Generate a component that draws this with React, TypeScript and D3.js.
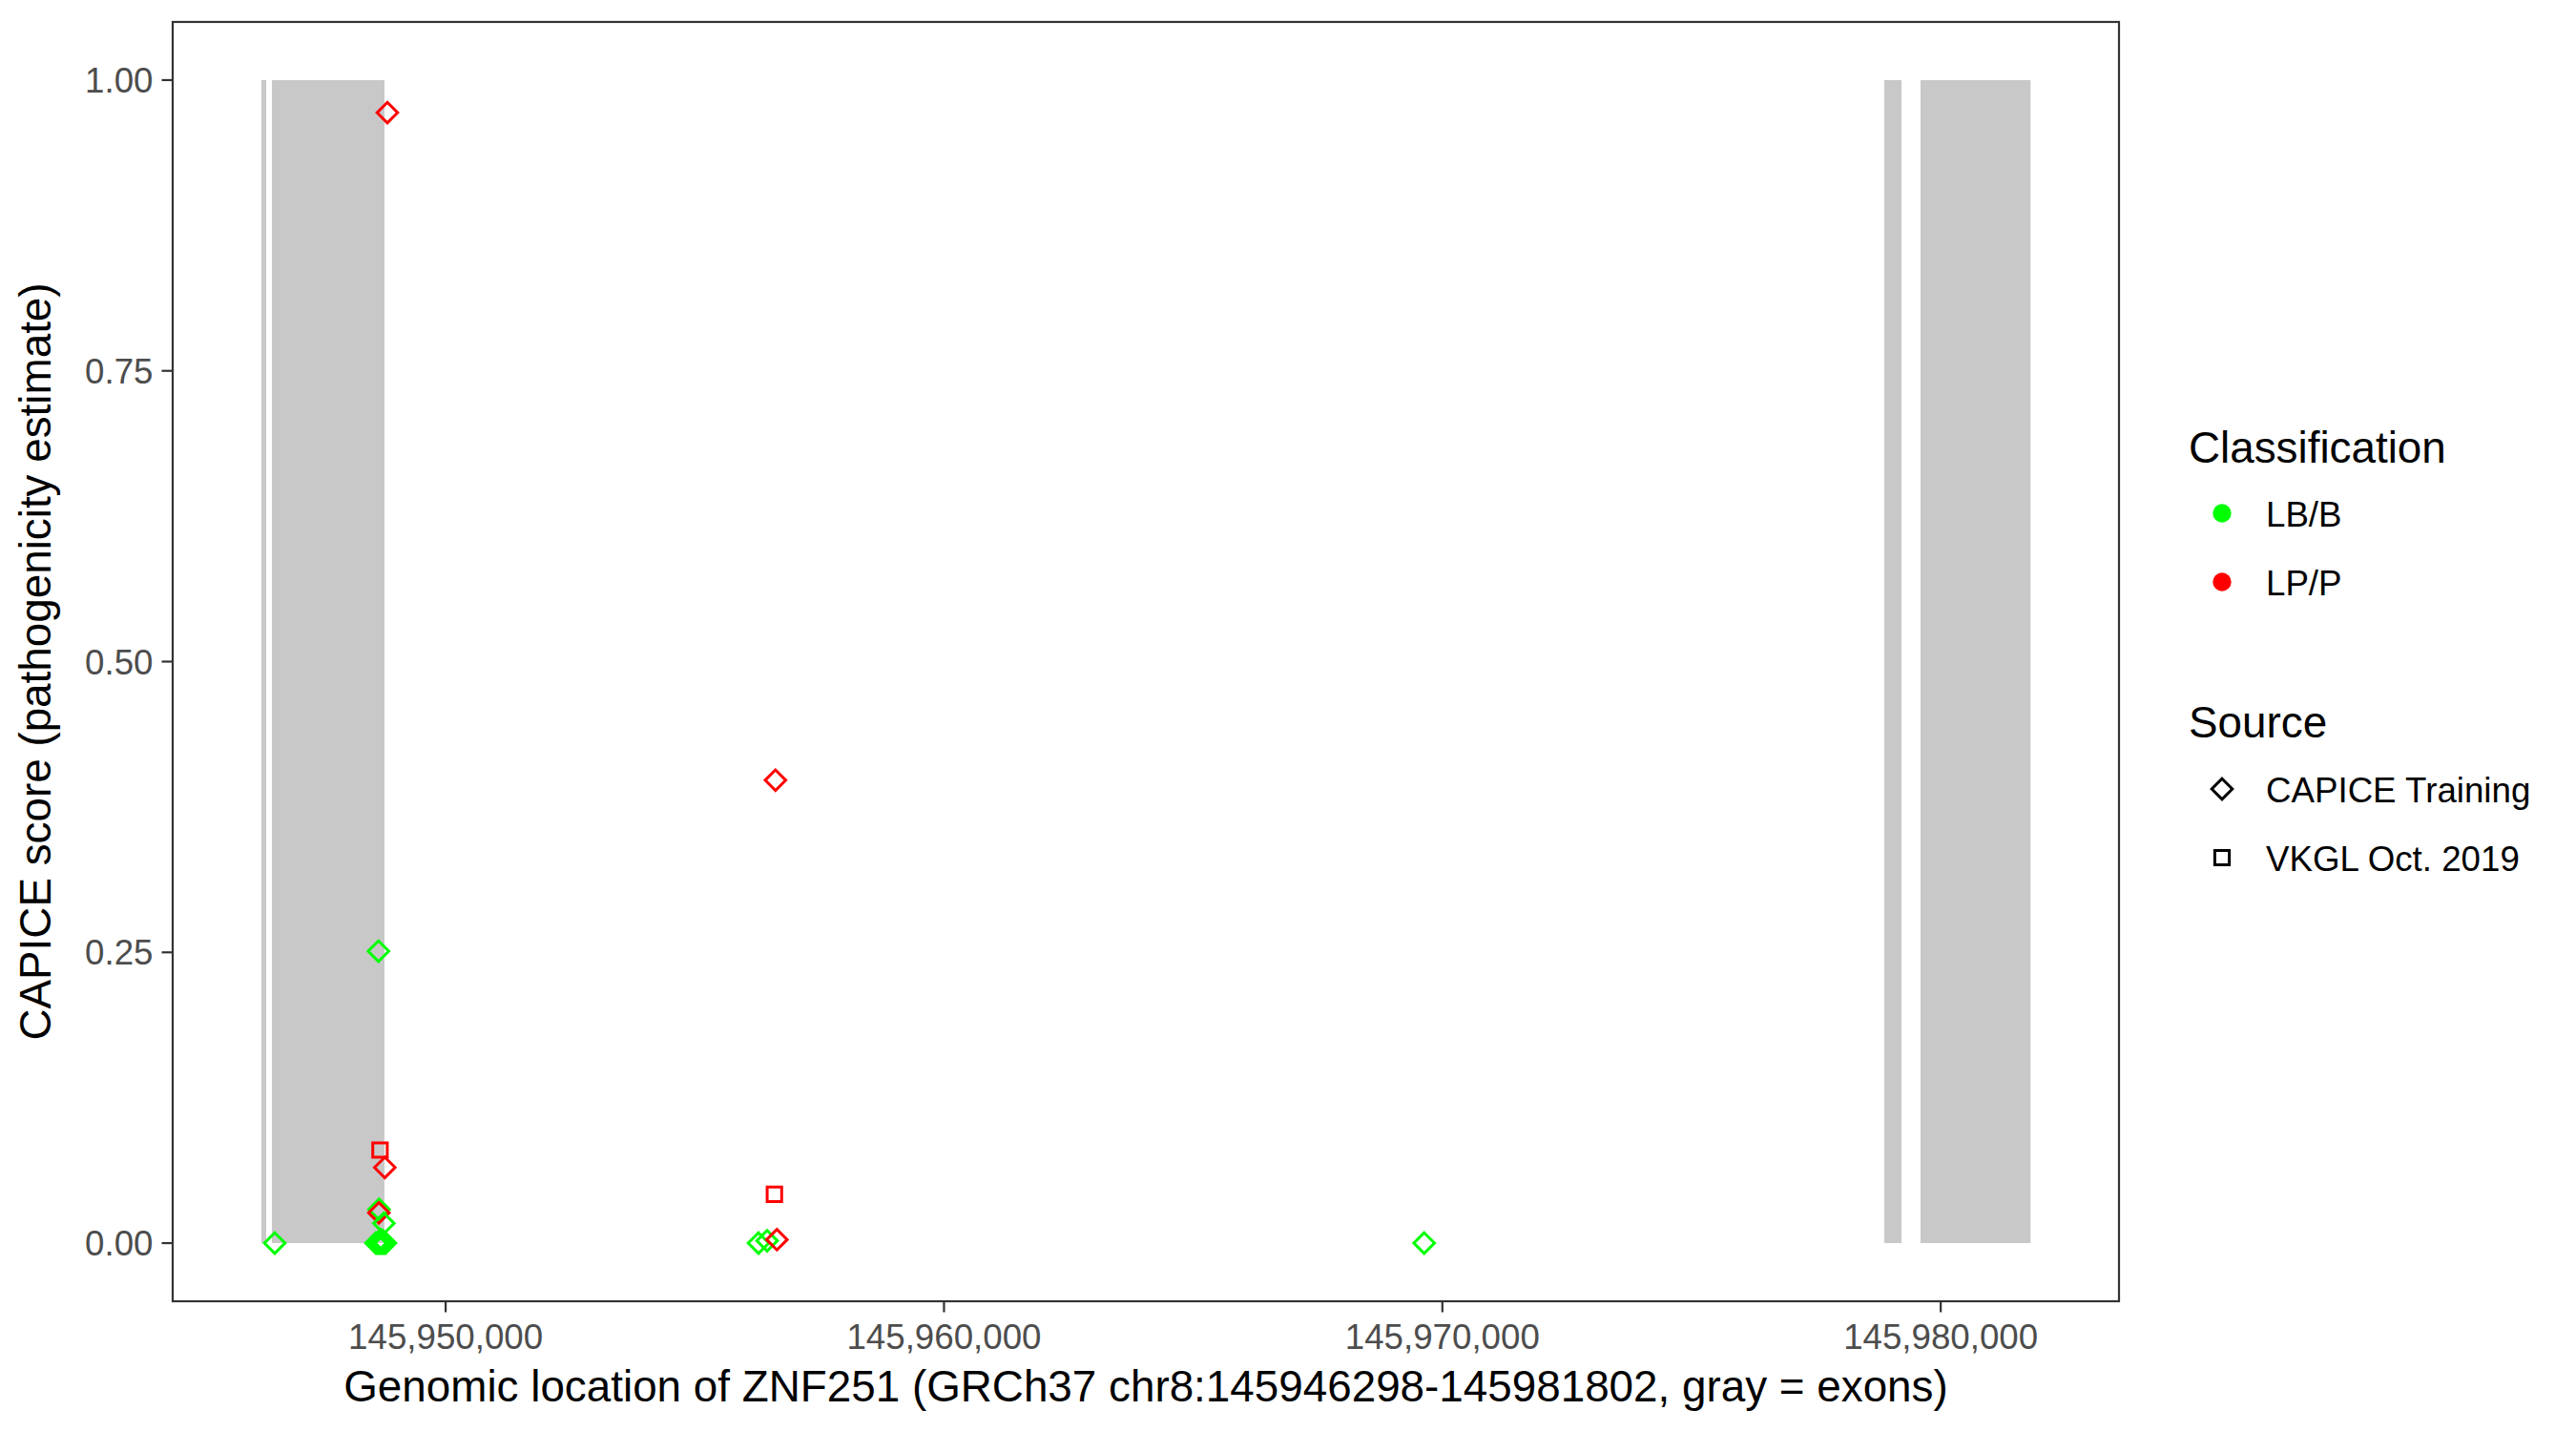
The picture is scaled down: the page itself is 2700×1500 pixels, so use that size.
import React, { useRef, useEffect } from "react";
import * as d3 from "d3";

// gene window (from the axis title)
const geneStart = 145946298;
const geneEnd = 145981802;

// exons (gray boxes)
const exonStarts = [145946303, 145946514, 145978868, 145979595];
const exonEnds = [145946399, 145948773, 145979213, 145981802];

// variants
const pointPos = [
  145946571, 145948652, 145948830, 145948779, 145948664, 145948660, 145948760,
  145948601, 145948639, 145948677, 145948716, 145948754, 145948792, 145948700,
  145948740, 145956278, 145956450, 145956647, 145956618, 145969635,
  145948683, 145956597,
];
const pointScore = [
  0, 0.251, 0.972, 0.065, 0.029, 0.026, 0.017,
  0, 0, 0, 0, 0, 0, 0.003,
  0.002, 0, 0.002, 0.003, 0.398, 0,
  0.080, 0.042,
];
const pointClass = [
  "LB/B", "LB/B", "LP/P", "LP/P", "LB/B", "LP/P", "LB/B",
  "LB/B", "LB/B", "LB/B", "LB/B", "LB/B", "LB/B", "LB/B",
  "LB/B", "LB/B", "LB/B", "LP/P", "LP/P", "LB/B",
  "LP/P", "LP/P",
];
const pointSource = [
  "CAPICE Training", "CAPICE Training", "CAPICE Training", "CAPICE Training",
  "CAPICE Training", "CAPICE Training", "CAPICE Training", "CAPICE Training",
  "CAPICE Training", "CAPICE Training", "CAPICE Training", "CAPICE Training",
  "CAPICE Training", "CAPICE Training", "CAPICE Training", "CAPICE Training",
  "CAPICE Training", "CAPICE Training", "CAPICE Training", "CAPICE Training",
  "VKGL Oct. 2019", "VKGL Oct. 2019",
];

const classNames = ["LB/B", "LP/P"];
const classColors = ["#00FF00", "#FF0000"];
const sourceNames = ["CAPICE Training", "VKGL Oct. 2019"];

const xTicks = [145950000, 145960000, 145970000, 145980000];
const yTicks = [0, 0.25, 0.5, 0.75, 1];

const font = "'Liberation Sans', Arial, Helvetica, sans-serif";

function shapePath(source: string, cx: number, cy: number) {
  if (source === "VKGL Oct. 2019") {
    const h = 7.6;
    return `M${cx - h},${cy - h}H${cx + h}V${cy + h}H${cx - h}Z`;
  }
  const d = 10.8;
  return `M${cx},${cy - d}L${cx + d},${cy}L${cx},${cy + d}L${cx - d},${cy}Z`;
}

function CapicePlot({ width, height }: { width: number; height: number }) {
  const svgRef = useRef<SVGSVGElement>(null);

  useEffect(() => {
    const svg = d3.select(svgRef.current);
    svg.selectAll("*").remove();

    const left = 181;
    const right = 2221;
    const top = 23;
    const bottom = 1364;

    // ggplot-style 5% expansion
    const xPad = (geneEnd - geneStart) * 0.05;
    const x = d3
      .scaleLinear()
      .domain([geneStart - xPad, geneEnd + xPad])
      .range([left, right]);
    const y = d3.scaleLinear().domain([-0.05, 1.05]).range([bottom, top]);
    const color = d3.scaleOrdinal<string, string>().domain(classNames).range(classColors);

    // exons
    svg
      .selectAll("rect.exon")
      .data(exonStarts.map((s, i) => [s, exonEnds[i]]))
      .enter()
      .append("rect")
      .attr("class", "exon")
      .attr("x", (d) => x(d[0]))
      .attr("width", (d) => x(d[1]) - x(d[0]))
      .attr("y", y(1))
      .attr("height", y(0) - y(1))
      .style("fill", "#C8C8C8");

    // points
    const pts = pointPos.map((p, i) => ({
      p,
      s: pointScore[i],
      c: pointClass[i],
      src: pointSource[i],
    }));
    svg
      .selectAll("path.pt")
      .data(pts)
      .enter()
      .append("path")
      .attr("class", "pt")
      .attr("d", (d) => shapePath(d.src, x(d.p), y(d.s)))
      .style("fill", "none")
      .style("stroke", (d) => color(d.c))
      .style("stroke-width", 3);

    // panel border
    svg
      .append("rect")
      .attr("x", left)
      .attr("y", top)
      .attr("width", right - left)
      .attr("height", bottom - top)
      .style("fill", "none")
      .style("stroke", "#333333")
      .style("stroke-width", 2.2);

    // x axis
    const fmtX = d3.format(",");
    const xt = svg.selectAll("g.xt").data(xTicks).enter().append("g").attr("class", "xt");
    xt.append("line")
      .attr("x1", (d) => x(d))
      .attr("x2", (d) => x(d))
      .attr("y1", bottom)
      .attr("y2", bottom + 11.5)
      .style("stroke", "#333333")
      .style("stroke-width", 2.2);
    xt.append("text")
      .attr("x", (d) => x(d))
      .attr("y", 1414)
      .attr("text-anchor", "middle")
      .style("font-family", font)
      .style("font-size", "36.7px")
      .style("fill", "#4D4D4D")
      .text((d) => fmtX(d));

    // y axis
    const fmtY = d3.format(".2f");
    const yt = svg.selectAll("g.yt").data(yTicks).enter().append("g").attr("class", "yt");
    yt.append("line")
      .attr("x1", left - 11.5)
      .attr("x2", left)
      .attr("y1", (d) => y(d))
      .attr("y2", (d) => y(d))
      .style("stroke", "#333333")
      .style("stroke-width", 2.2);
    yt.append("text")
      .attr("x", left - 20.5)
      .attr("y", (d) => y(d) + 13)
      .attr("text-anchor", "end")
      .style("font-family", font)
      .style("font-size", "36.7px")
      .style("fill", "#4D4D4D")
      .text((d) => fmtY(d));

    // axis titles
    svg
      .append("text")
      .attr("x", (left + right) / 2)
      .attr("y", 1469)
      .attr("text-anchor", "middle")
      .style("font-family", font)
      .style("font-size", "45.8px")
      .style("fill", "#000")
      .text("Genomic location of ZNF251 (GRCh37 chr8:145946298-145981802, gray = exons)");

    svg
      .append("text")
      .attr("transform", `translate(53, ${(top + bottom) / 2}) rotate(-90)`)
      .attr("text-anchor", "middle")
      .style("font-family", font)
      .style("font-size", "45.8px")
      .style("fill", "#000")
      .text("CAPICE score (pathogenicity estimate)");

    // legends
    const lx = 2294;
    const keyX = 2329;
    const labX = 2375;
    const leg = svg.append("g");
    leg
      .append("text")
      .attr("x", lx)
      .attr("y", 485)
      .style("font-family", font)
      .style("font-size", "45.8px")
      .text("Classification");
    classNames.forEach((c, i) => {
      const cy = 538 + i * 72;
      leg.append("circle").attr("cx", keyX).attr("cy", cy).attr("r", 9.7).style("fill", color(c));
      leg
        .append("text")
        .attr("x", labX)
        .attr("y", cy + 14)
        .style("font-family", font)
        .style("font-size", "36.7px")
        .text(c);
    });
    leg
      .append("text")
      .attr("x", lx)
      .attr("y", 773)
      .style("font-family", font)
      .style("font-size", "45.8px")
      .text("Source");
    sourceNames.forEach((s, i) => {
      const cy = 827 + i * 72;
      leg
        .append("path")
        .attr("d", shapePath(s, keyX, cy))
        .style("fill", "none")
        .style("stroke", "#000")
        .style("stroke-width", 3);
      leg
        .append("text")
        .attr("x", labX)
        .attr("y", cy + 14)
        .style("font-family", font)
        .style("font-size", "36.7px")
        .text(s);
    });
  }, [width, height]);

  return (
    <svg
      ref={svgRef}
      width={width}
      height={height}
      style={{ position: "absolute", left: 0, top: 0, background: "#fff" }}
    ></svg>
  );
}

export default function App() {
  return <CapicePlot width={2700} height={1500} />;
}
